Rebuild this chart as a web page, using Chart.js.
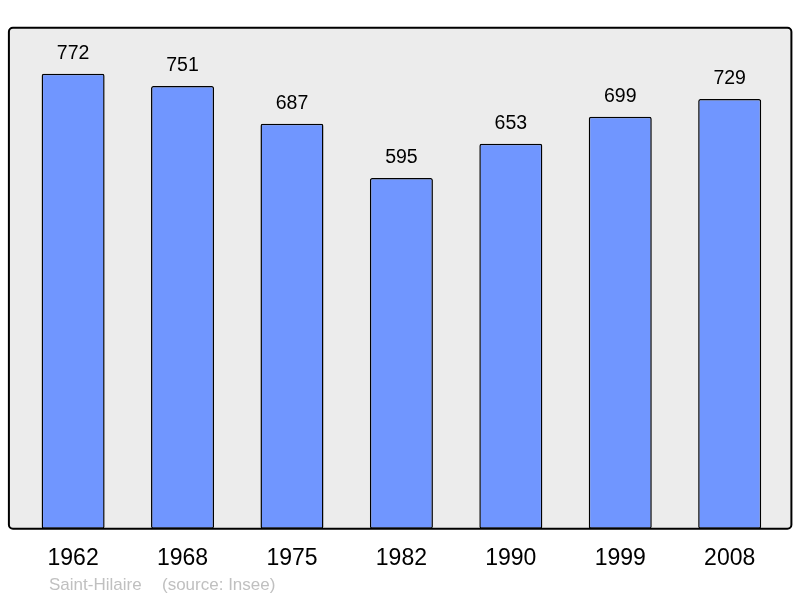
<!DOCTYPE html>
<html>
<head>
<meta charset="utf-8">
<script src="https://cdn.jsdelivr.net/npm/chart.js@4/dist/chart.umd.min.js"></script>
<style>
  html, body { margin: 0; padding: 0; background: #ffffff; }
  #wrap { width: 800px; height: 598px; position: relative; }
</style>
</head>
<body>
<div id="wrap"><canvas id="c" width="800" height="598"></canvas></div>
<script>
const years = ["1962", "1968", "1975", "1982", "1990", "1999", "2008"];
const population = [772, 751, 687, 595, 653, 699, 729];
const yMin = 0;
const yMax = 850;
const placeName = "Saint-Hilaire";
const sourceText = "(source: Insee)";

const FONT = "'Liberation Sans', Arial, sans-serif";

const bgBox = {
  id: 'bgBox',
  beforeDatasetsDraw(chart) {
    const { ctx, chartArea: a } = chart;
    const x0 = a.left - 9.5, x1 = a.right + 7, y0 = a.top, y1 = a.bottom;
    ctx.save();
    ctx.beginPath();
    ctx.roundRect(x0, y0, x1 - x0, y1 - y0, 4);
    ctx.fillStyle = '#ececec';
    ctx.fill();
    ctx.restore();
  },
  afterDatasetsDraw(chart) {
    const { ctx, chartArea: a } = chart;
    const x0 = a.left - 9.5, x1 = a.right + 7, y0 = a.top, y1 = a.bottom;
    ctx.save();
    ctx.beginPath();
    ctx.roundRect(x0, y0, x1 - x0, y1 - y0, 4);
    ctx.lineWidth = 2;
    ctx.strokeStyle = '#000000';
    ctx.stroke();
    // value labels
    const meta = chart.getDatasetMeta(0);
    ctx.fillStyle = '#000000';
    ctx.font = "19.5px " + FONT;
    ctx.textAlign = 'center';
    ctx.textBaseline = 'alphabetic';
    meta.data.forEach((bar, i) => {
      ctx.fillText(String(population[i]), bar.x, bar.y - 15);
    });
    // caption
    ctx.fillStyle = '#c0c0c0';
    ctx.font = "17px " + FONT;
    ctx.textAlign = 'left';
    ctx.fillText(placeName, 49, 590);
    ctx.fillText(sourceText, 162, 590);
    ctx.restore();
  }
};

new Chart(document.getElementById('c'), {
  type: 'bar',
  data: {
    labels: years,
    datasets: [{
      data: population,
      backgroundColor: '#7096ff',
      borderColor: '#000000',
      borderWidth: 1.5,
      borderRadius: 2,
      borderSkipped: false,
      categoryPercentage: 1.0,
      barPercentage: 0.576
    }]
  },
  options: {
    responsive: false,
    animation: false,
    devicePixelRatio: 1,
    layout: { padding: { left: 18.4, right: 15.6, top: 27.7, bottom: 18 } },
    plugins: { legend: { display: false }, tooltip: { enabled: false } },
    scales: {
      x: {
        grid: { display: false },
        border: { display: false },
        ticks: { color: '#000000', font: { family: FONT, size: 23 }, padding: 7.8, maxRotation: 0 }
      },
      y: {
        display: false,
        min: yMin,
        max: yMax
      }
    }
  },
  plugins: [bgBox]
});
</script>
</body>
</html>
